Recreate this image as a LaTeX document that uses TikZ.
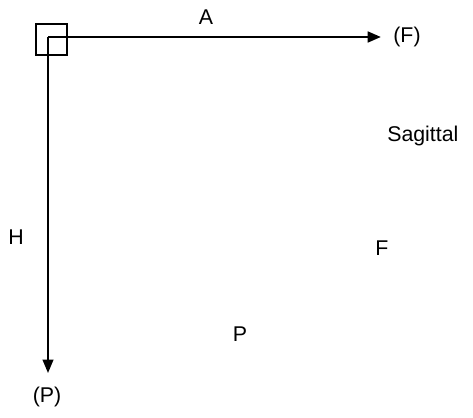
\documentclass[tikz,border=0pt]{standalone}
\usepackage{fontspec}
\setmainfont{Liberation Sans}
\usetikzlibrary{arrows.meta}

\begin{document}
\begin{tikzpicture}[x=0.75pt, y=-0.75pt, font=\fontsize{16}{19}\selectfont,
        axis/.style={-{Triangle[length=10pt, width=8pt]}}]
            \useasboundingbox (0,0) rectangle (473,417);
            \coordinate (o) at (48,37);
            \coordinate (fend) at (381,37);
            \coordinate (pend) at (48,373);
            \draw[line width=1.2pt] (36,24) rectangle (67,55);
            \draw[axis, line width=2pt] (o) -- (fend);
            \draw[axis, line width=1.5pt] (o) -- (pend);
            \node (fl) at (407,37) {(F)};
            \node (pl) at (47,397) {(P)};
            \node (al) at (206,17) {A};
            \node (hl) at (16,237) {H};
            \node[anchor=west, inner sep=0pt] (sag) at (387,136) {Sagittal};
            \node (f) at (382,248) {F};
            \node (p) at (240,334) {P};
        \end{tikzpicture}
\end{document}
